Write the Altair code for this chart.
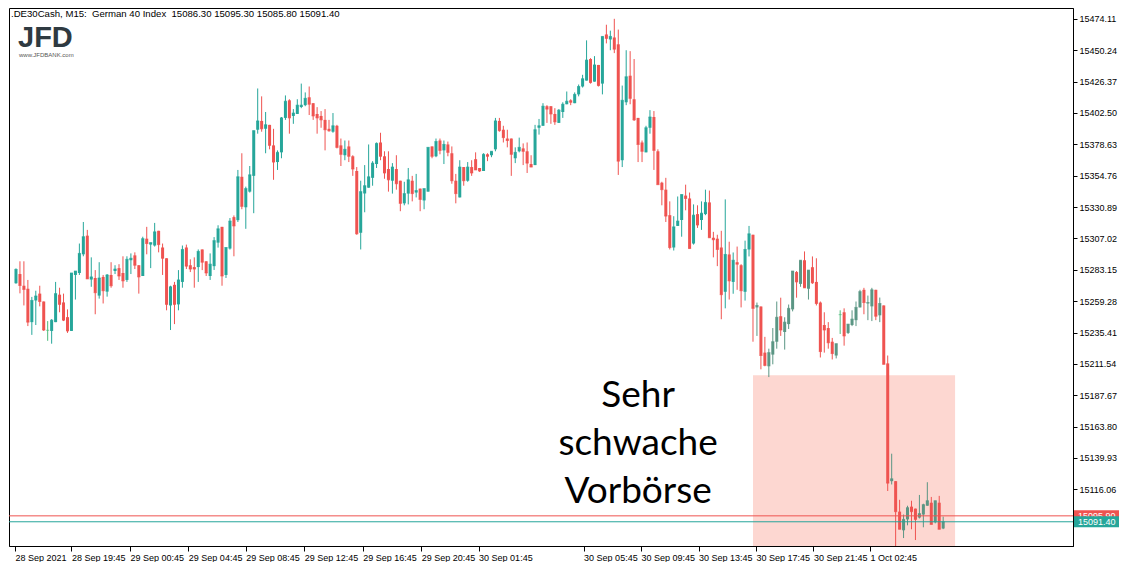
import altair as alt
import pandas as pd

# ---- OHLC data (M15 candles) ----
opens = [15272.9,15279.9,15271.0,15268.7,15243.3,15259.8,15265.0,15259.0,15237.1,15236.6,
15243.3,15264.2,15258.3,15247.1,15236.6,15279.2,15280.7,15294.9,15309.1,15275.7,
15276.9,15263.5,15277.7,15266.5,15279.2,15282.2,15284.4,15280.7,15275.4,15290.4,
15294.1,15286.6,15278.4,15306.8,15302.3,15301.6,15312.8,15300.1,15291.9,15256.0,
15271.7,15256.8,15273.9,15300.1,15286.6,15285.2,15285.2,15298.6,15289.6,15278.4,
15285.9,15303.8,15315.8,15279.2,15299.3,15323.2,15320.9,15353.9,15330.7,15342.6,
15354.6,15389.7,15396.4,15390.4,15393.4,15377.8,15365.1,15372.5,15398.7,15412.1,
15400.2,15401.7,15407.0,15408.4,15414.4,15409.9,15401.7,15400.2,15397.2,15390.4,
15388.2,15392.7,15377.8,15370.3,15377.0,15369.5,15358.3,15311.3,15341.2,15345.6,
15353.1,15363.6,15380.0,15369.5,15359.8,15350.9,15359.8,15350.9,15333.7,15341.1,
15350.9,15341.9,15344.9,15335.9,15342.6,15377.0,15369.5,15381.5,15374.0,15378.5,
15371.8,15350.9,15338.2,15361.3,15350.9,15361.3,15367.3,15360.6,15358.3,15371.0,
15370.3,15374.8,15396.4,15389.7,15383.0,15383.0,15368.0,15373.3,15375.5,15373.3,
15363.6,15362.8,15391.2,15392.7,15407.6,15407.6,15401.7,15394.9,15403.2,15409.1,
15412.1,15409.9,15416.6,15422.6,15427.1,15443.5,15426.3,15439.0,15424.8,15462.2,
15458.4,15459.9,15454.7,15366.5,15410.6,15430.8,15412.9,15398.7,15380.0,15372.5,
15391.2,15399.4,15373.3,15349.4,15344.1,15324.7,15300.1,15316.5,15321.0,15339.6,
15337.4,15303.1,15325.5,15321.0,15325.5,15334.4,15307.5,15306.8,15300.1,15266.4,
15294.8,15273.9,15288.9,15286.6,15266.4,15298.6,15309.8,15254.5,15255.2,15220.1,
15209.7,15218.6,15228.4,15247.8,15235.8,15241.8,15253.0,15281.4,15272.4,15290.4,
15268.7,15285.1,15273.9,15258.2,15241.1,15238.8,15228.4,15217.9,15249.0,15250.8,
15235.1,15241.1,15244.8,15254.5,15267.9,15257.5,15255.3,15267.9,15248.5,15256.0,
15211.9,15122.3,15122.3,15099.1,15084.9,15093.2,15102.9,15101.4,15094.6,15096.9,
15103.6,15105.9,15091.0,15105.9,15086.3]
highs = [15284.2,15289.6,15289.6,15275.4,15262.5,15267.2,15271.0,15259.0,15244.1,15245.6,
15273.9,15269.5,15265.0,15253.0,15280.7,15282.2,15303.1,15319.5,15313.5,15292.6,
15282.9,15288.9,15279.2,15279.9,15288.9,15286.6,15287.4,15293.4,15293.4,15295.6,
15296.4,15286.6,15308.3,15315.8,15303.8,15318.8,15312.8,15303.1,15291.9,15271.0,
15273.9,15282.9,15301.6,15302.3,15291.1,15292.6,15298.6,15298.6,15289.6,15295.6,
15308.0,15317.0,15315.8,15300.1,15322.5,15324.5,15359.1,15371.8,15346.4,15362.1,
15389.0,15421.1,15415.1,15403.2,15393.4,15390.4,15374.0,15399.4,15415.8,15412.9,
15405.4,15412.9,15424.8,15418.1,15422.6,15409.9,15406.9,15403.9,15405.4,15397.2,
15402.4,15393.4,15383.0,15381.5,15381.5,15370.3,15361.3,15350.9,15362.8,15378.5,
15365.8,15380.0,15387.4,15373.3,15373.3,15364.3,15370.3,15350.9,15350.1,15360.6,
15354.6,15356.1,15344.9,15344.9,15376.3,15377.0,15383.0,15383.0,15381.5,15380.7,
15377.0,15356.1,15366.5,15361.3,15365.1,15366.5,15372.5,15360.6,15371.8,15371.8,
15373.3,15398.7,15398.7,15392.7,15389.7,15383.0,15376.3,15383.7,15379.3,15380.0,
15370.3,15393.4,15397.9,15409.9,15408.4,15407.6,15406.1,15405.4,15410.6,15418.8,
15412.9,15418.1,15424.1,15431.5,15457.7,15444.2,15445.7,15439.0,15460.7,15469.6,
15465.1,15474.1,15465.9,15423.3,15450.2,15449.5,15443.5,15398.7,15381.5,15392.7,
15404.6,15403.9,15374.8,15350.1,15353.1,15335.2,15323.9,15338.9,15340.4,15347.9,
15341.9,15332.9,15332.2,15335.2,15344.1,15343.4,15312.0,15309.8,15312.8,15336.7,
15304.5,15296.3,15300.8,15287.4,15305.3,15316.5,15309.8,15258.2,15255.2,15232.1,
15223.1,15238.8,15259.0,15261.9,15247.0,15256.7,15282.2,15282.2,15290.4,15297.1,
15282.9,15293.3,15291.9,15259.0,15250.8,15243.3,15231.3,15226.9,15252.3,15253.8,
15241.8,15252.3,15259.0,15267.9,15269.4,15263.5,15269.4,15267.9,15262.0,15256.0,
15217.9,15143.2,15122.3,15108.1,15096.9,15103.6,15107.4,15101.4,15111.8,15105.1,
15121.5,15110.3,15107.4,15111.1,15095.3]
lows = [15272.5,15265.2,15256.0,15240.3,15233.6,15241.1,15255.3,15236.6,15229.1,15226.9,
15243.3,15250.8,15244.1,15235.1,15236.6,15260.5,15279.2,15293.4,15276.2,15270.2,
15249.3,15261.2,15257.5,15262.7,15269.5,15279.9,15275.4,15269.5,15273.9,15279.9,
15283.7,15265.0,15278.4,15294.9,15284.4,15300.8,15296.4,15279.2,15252.3,15237.3,
15241.8,15252.3,15269.5,15283.7,15281.4,15269.5,15273.9,15282.9,15278.4,15275.4,
15283.0,15300.0,15271.0,15276.9,15298.5,15293.4,15319.5,15329.2,15314.3,15341.9,
15326.2,15386.7,15388.2,15371.8,15374.8,15351.6,15359.1,15368.0,15397.2,15386.7,
15394.2,15401.7,15406.1,15407.6,15400.9,15397.2,15386.7,15391.2,15374.0,15388.2,
15387.4,15375.5,15362.1,15366.5,15365.1,15354.6,15309.8,15298.6,15326.9,15345.6,
15347.1,15360.6,15366.5,15352.4,15342.6,15341.1,15344.1,15327.7,15332.2,15332.9,
15335.2,15338.2,15327.7,15329.2,15342.6,15368.0,15368.8,15371.0,15363.6,15369.5,
15348.6,15333.7,15338.2,15347.1,15350.1,15354.6,15359.1,15357.6,15358.3,15365.8,
15368.8,15373.3,15388.2,15380.0,15376.3,15354.6,15364.3,15372.5,15362.8,15356.8,
15361.3,15362.8,15386.0,15392.7,15394.9,15394.2,15393.4,15394.9,15398.7,15409.1,
15408.4,15409.9,15415.1,15421.8,15427.1,15424.8,15426.3,15422.6,15416.6,15455.4,
15450.2,15448.0,15355.3,15361.3,15408.4,15409.1,15396.4,15365.1,15365.1,15372.5,
15386.7,15359.1,15347.9,15332.2,15319.5,15298.6,15297.8,15316.5,15308.3,15328.4,
15299.3,15302.3,15315.0,15313.5,15324.7,15307.5,15292.6,15285.9,15245.5,15253.8,
15260.5,15264.9,15267.9,15254.5,15259.7,15293.3,15228.4,15232.8,15207.4,15209.7,
15201.5,15211.2,15223.1,15232.8,15222.4,15238.1,15251.5,15261.9,15270.2,15269.4,
15260.5,15272.4,15256.0,15216.4,15220.1,15223.1,15214.9,15215.7,15234.3,15225.4,
15234.3,15240.3,15240.3,15254.5,15249.3,15244.8,15244.1,15244.8,15243.3,15211.2,
15114.8,15119.8,15072.2,15085.7,15079.0,15088.7,15085.7,15077.5,15093.9,15087.2,
15103.6,15089.4,15090.2,15085.7,15085.8]
closes = [15283.4,15271.2,15268.2,15243.3,15259.8,15263.2,15259.0,15237.3,15237.1,15244.8,
15265.0,15256.8,15244.8,15236.6,15280.7,15282.2,15295.6,15308.3,15276.2,15277.7,
15265.7,15276.9,15267.2,15279.2,15271.0,15283.7,15278.4,15274.7,15291.1,15291.9,
15286.6,15277.7,15306.8,15303.1,15303.8,15312.0,15302.3,15291.9,15256.8,15270.2,
15256.8,15275.4,15298.6,15285.9,15283.7,15283.7,15297.1,15288.9,15280.7,15287.4,
15305.3,15314.3,15278.4,15300.1,15320.2,15316.5,15353.9,15331.4,15344.9,15355.4,
15389.0,15396.4,15390.4,15393.4,15377.8,15365.1,15372.5,15398.7,15411.4,15398.7,
15402.4,15408.4,15408.4,15413.6,15409.1,15400.2,15398.7,15397.2,15389.7,15388.9,
15392.7,15376.3,15371.0,15374.8,15369.5,15359.8,15310.5,15342.6,15347.1,15353.9,
15364.3,15379.3,15369.5,15356.8,15351.6,15361.3,15348.6,15333.7,15341.1,15351.6,
15341.1,15343.4,15336.7,15344.9,15376.3,15369.5,15380.7,15374.0,15378.5,15372.5,
15350.9,15341.1,15361.3,15350.9,15361.3,15356.8,15359.1,15358.3,15371.0,15369.5,
15373.3,15396.4,15389.0,15383.7,15381.5,15371.0,15372.5,15376.3,15373.3,15364.3,
15361.3,15389.7,15392.7,15407.6,15405.4,15401.7,15395.7,15404.6,15409.1,15411.4,
15410.6,15416.6,15422.6,15428.5,15442.7,15425.6,15439.0,15423.3,15460.7,15459.2,
15460.7,15451.0,15365.8,15412.1,15430.0,15413.6,15397.2,15378.5,15373.3,15391.2,
15399.4,15374.0,15347.9,15344.1,15324.0,15300.1,15315.8,15320.2,15340.4,15337.4,
15299.3,15324.7,15317.2,15326.2,15334.4,15307.5,15306.0,15298.6,15264.2,15294.8,
15274.7,15290.4,15287.4,15267.2,15298.6,15310.5,15253.8,15256.0,15217.9,15210.4,
15220.1,15228.4,15247.0,15237.3,15243.3,15253.8,15282.2,15273.9,15290.4,15269.4,
15282.9,15273.2,15257.5,15220.9,15237.3,15227.6,15219.4,15226.9,15249.0,15232.8,
15241.8,15245.6,15254.5,15266.5,15258.2,15258.2,15267.9,15247.8,15257.5,15211.2,
15120.8,15124.1,15099.1,15085.7,15093.2,15102.1,15099.1,15093.2,15097.6,15104.4,
15107.4,15089.4,15107.4,15085.7,15091.4]

# time axis: bar index of each label and its text
tick_pos = [-0.25, 14, 28.75, 43.5, 58, 72.75, 87.5, 102.25, 116.75,
            143.25, 157.75, 172.25, 186.75, 201.25, 215.5]
tick_labels = ["28 Sep 2021", "28 Sep 19:45", "29 Sep 00:45", "29 Sep 04:45",
               "29 Sep 08:45", "29 Sep 12:45", "29 Sep 16:45", "29 Sep 20:45",
               "30 Sep 01:45", "30 Sep 05:45", "30 Sep 09:45", "30 Sep 13:45",
               "30 Sep 17:45", "30 Sep 21:45", "1 Oct 02:45"]
price_ticks = [15474.11, 15450.24, 15426.37, 15402.50, 15378.63, 15354.76,
               15330.89, 15307.02, 15283.15, 15259.28, 15235.41, 15211.54,
               15187.67, 15163.80, 15139.93, 15116.06]
ask_price = 15095.90
bid_price = 15091.40
zone_x = [186, 237]
zone_y = [15202.9, 15050.0]
note_text = "Sehr\nschwache\nVorbörse"
note_pos = [157, 15187.0]
header = ".DE30Cash, M15:\u00a0\u00a0German 40 Index\u00a0\u00a015086.30 15095.30 15085.80 15091.40"

W, H = 1064, 538
UP, DOWN, DOJI, UP_ZONE = "#26a69a", "#ef5350", "#4cbb7a", "#5b9684"
FONT = "Liberation Sans"

n = len(opens)
df = pd.DataFrame({"idx": list(range(n)), "o": opens, "h": highs, "l": lows, "c": closes})
def colour(r):
    if r.c > r.o:
        return UP_ZONE if zone_x[0] <= r.idx <= zone_x[1] else UP
    if r.c < r.o:
        return DOWN
    return DOJI
df["col"] = df.apply(colour, axis=1)

xs = alt.Scale(domain=[-0.5, 265.5], nice=False, zero=False)
ys = alt.Scale(domain=[15072.96, 15482.33], nice=False, zero=False)

label_expr = "[" + ",".join("'%s'" % t for t in tick_labels) + "][indexof([" + \
    ",".join(str(p) for p in tick_pos) + "], datum.value)]"

x_axis = alt.Axis(values=tick_pos, labelExpr=label_expr, title=None, grid=False,
                  orient="bottom", labelAlign="left", labelPadding=2, tickSize=5,
                  labelFont=FONT, labelFontSize=9, labelColor="black",
                  domainColor="black", tickColor="black", labelFlush=False,
                  labelOverlap=False, labelBound=False)
y_axis = alt.Axis(values=price_ticks, format=".2f", title=None, grid=False,
                  orient="right", tickSize=4, labelPadding=2,
                  labelFont=FONT, labelFontSize=9, labelColor="black",
                  domainColor="black", tickColor="black", labelOverlap=False)

def X(field):
    return alt.X(field, scale=xs, axis=x_axis)
def Y(field):
    return alt.Y(field, scale=ys, axis=y_axis)

zone = alt.Chart(pd.DataFrame({"x0": [zone_x[0]], "x1": [zone_x[1]],
                               "y0": [zone_y[0]], "y1": [zone_y[1]]})).mark_rect(
    color="#fdd7d1", clip=True).encode(x=X("x0:Q"), x2="x1:Q", y=Y("y0:Q"), y2="y1:Q")

base = alt.Chart(df)
wicks = base.mark_rule(strokeWidth=1, clip=True).encode(
    x=X("idx:Q"), y=Y("l:Q"), y2="h:Q", color=alt.Color("col:N", scale=None))
bodies = base.mark_bar(width=3, clip=True).encode(
    x=X("idx:Q"), y=Y("o:Q"), y2="c:Q", color=alt.Color("col:N", scale=None))
caps = base.mark_tick(orient="horizontal", size=3, thickness=1, clip=True).encode(
    x=X("idx:Q"), y=Y("c:Q"), color=alt.Color("col:N", scale=None))

lines_df = pd.DataFrame({"p": [ask_price, bid_price], "col": [DOWN, UP],
                         "t": ["%.2f" % ask_price, "%.2f" % bid_price]})
hlines = alt.Chart(lines_df).mark_rule(strokeWidth=1).encode(
    x=alt.value(0), x2=alt.value(W), y=Y("p:Q"), color=alt.Color("col:N", scale=None))

tag_layers = []
for i in range(2):
    sub = lines_df.iloc[[i]]
    tag_layers.append(alt.Chart(sub).mark_rule(strokeWidth=11).encode(
        x=alt.value(W + 1), x2=alt.value(W + 46), y=Y("p:Q"),
        color=alt.Color("col:N", scale=None)))
    tag_layers.append(alt.Chart(sub).mark_text(align="left", baseline="middle",
        color="white", font=FONT, fontSize=9).encode(
        x=alt.value(W + 5), y=Y("p:Q"), text="t:N"))

note = alt.Chart(pd.DataFrame({"x": [note_pos[0]], "y": [note_pos[1]], "t": [note_text]})).mark_text(
    font="Lato", fontSize=37, lineBreak="\n", lineHeight=48, align="center",
    baseline="middle", color="black").encode(x=X("x:Q"), y=Y("y:Q"), text="t:N")

head = alt.Chart(pd.DataFrame({"t": [header]})).mark_text(
    align="left", baseline="middle", font=FONT, fontSize=9.6, color="black").encode(
    x=alt.value(2), y=alt.value(6), text="t:N")
logo = alt.Chart(pd.DataFrame({"t": ["JFD"]})).mark_text(
    align="left", baseline="alphabetic", font="Liberation Sans", fontWeight="bold",
    fontSize=29, color="#2f3a41").encode(x=alt.value(9), y=alt.value(39), text="t:N")
logo2 = alt.Chart(pd.DataFrame({"t": ["www.JFDBANK.com"]})).mark_text(
    align="left", baseline="alphabetic", font="Liberation Sans", fontSize=6,
    color="#555555").encode(x=alt.value(10), y=alt.value(49), text="t:N")

chart = alt.layer(zone, wicks, bodies, caps, hlines, *tag_layers, note, head, logo, logo2).properties(
    width=W, height=H, background="white", padding=0
).configure_view(stroke="black", strokeWidth=1)

chart.save("out.html", embed_options={"renderer": "svg", "actions": False})
